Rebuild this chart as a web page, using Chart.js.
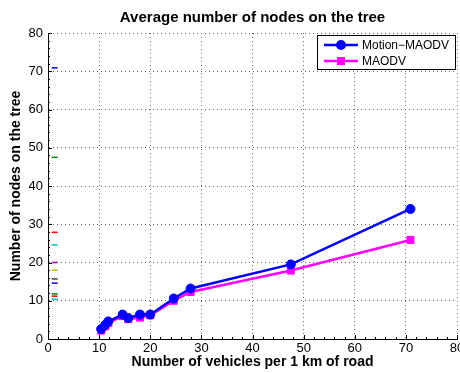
<!DOCTYPE html>
<html>
<head>
<meta charset="utf-8">
<script src="https://cdn.jsdelivr.net/npm/chart.js@4.4.1/dist/chart.umd.min.js"></script>
<style>
  html, body { margin: 0; padding: 0; background: #fff; }
</style>
</head>
<body>
<canvas id="myChart" width="460" height="373"></canvas>
<script>
// vehicles per km, and the average tree size for each protocol
var vehicleDensity = [10.4, 11.2, 11.8, 14.6, 15.7, 18.0, 20.0, 24.6, 27.9, 47.5, 70.9];
var motionMaodvNodes = [2.6, 3.7, 4.6, 6.4, 5.5, 6.4, 6.4, 10.6, 13.2, 19.5, 34.0];
var maodvNodes = [2.2, 3.3, 4.2, 6.0, 5.2, 5.6, 6.2, 10.0, 12.3, 17.9, 25.9];

// short dashes near the y axis, one per density value, in plot colour order
var densityMarkX = 1.3;
var densityMarkColors = ['#0000ff', '#008000', '#ff0000', '#00bfbf', '#bf00bf', '#bfbf00', '#404040',
    '#0000ff', '#008000', '#ff0000', '#00bfbf'];

var seriesNames = ['Motion\u2212MAODV', 'MAODV'];
var seriesColors = ['#0000ff', '#ff00ff'];
var xTickValues = [0, 10, 20, 30, 40, 50, 60, 70, 80];
var yTickValues = [0, 10, 20, 30, 40, 50, 60, 70, 80];

var FONT = '"Liberation Sans", Arial, Helvetica, sans-serif';

function toPoints(xs, ys) {
    return xs.map(function (x, i) { return { x: x, y: ys[i] }; });
}

// density values sorted high to low, as the dashes are stacked
var densityMarks = vehicleDensity.slice().sort(function (a, b) { return b - a; })
    .map(function (v) { return { x: densityMarkX, y: v }; });

// title, legend box and axis tick marks
var matlabLook = {
    id: 'matlabLook',
    beforeDatasetsDraw: function (chart) {
        var ctx = chart.ctx;
        var xs = chart.scales.x, ys = chart.scales.y;
        var left = chart.chartArea.left, bottom = chart.chartArea.bottom;
        ctx.save();
        ctx.strokeStyle = '#000';
        ctx.lineWidth = 1;
        ctx.beginPath();
        for (var v = 0; v <= 80; v += 2) {
            var len = (v % 10 === 0) ? 4 : 2;
            var py = Math.round(ys.getPixelForValue(v)) + 0.5;
            ctx.moveTo(left, py);
            ctx.lineTo(left + len, py);
            var px = Math.round(xs.getPixelForValue(v)) + 0.5;
            ctx.moveTo(px, bottom);
            ctx.lineTo(px, bottom - len);
        }
        ctx.stroke();
        ctx.restore();
    },
    afterDraw: function (chart) {
        var ctx = chart.ctx;
        var area = chart.chartArea;
        ctx.save();
        ctx.fillStyle = '#000';
        ctx.font = 'bold 15px ' + FONT;
        ctx.textAlign = 'center';
        ctx.textBaseline = 'middle';
        ctx.fillText('Average number of nodes on the tree', (area.left + area.right) / 2, 18);

        // legend
        var bx = 317.5, by = 35.5, bw = 138, bh = 34;
        ctx.fillStyle = '#fff';
        ctx.fillRect(bx, by, bw, bh);
        ctx.strokeStyle = '#000';
        ctx.lineWidth = 1;
        ctx.strokeRect(bx, by, bw, bh);
        ctx.font = '12px ' + FONT;
        ctx.textAlign = 'left';
        for (var i = 0; i < seriesNames.length; i++) {
            var ry = 45 + i * 16;
            ctx.strokeStyle = seriesColors[i];
            ctx.fillStyle = seriesColors[i];
            ctx.lineWidth = 2.5;
            ctx.beginPath();
            ctx.moveTo(324, ry);
            ctx.lineTo(358, ry);
            ctx.stroke();
            ctx.beginPath();
            if (i === 0) {
                ctx.arc(341, ry, 5, 0, Math.PI * 2);
            } else {
                ctx.rect(337, ry - 4, 8, 8);
            }
            ctx.fill();
            ctx.fillStyle = '#000';
            ctx.fillText(seriesNames[i], 362, ry + 0.5);
        }
        ctx.restore();
    }
};

var ctx = document.getElementById('myChart').getContext('2d');
var myChart = new Chart(ctx, {
    type: 'scatter',
    data: {
        datasets: [{
            label: seriesNames[0],
            data: toPoints(vehicleDensity, motionMaodvNodes),
            showLine: true,
            borderColor: seriesColors[0],
            backgroundColor: seriesColors[0],
            borderWidth: 2.5,
            pointStyle: 'circle',
            pointRadius: 4.5,
            pointBorderWidth: 1
        }, {
            label: seriesNames[1],
            data: toPoints(vehicleDensity, maodvNodes),
            showLine: true,
            borderColor: seriesColors[1],
            backgroundColor: seriesColors[1],
            borderWidth: 2.5,
            pointStyle: 'rect',
            pointRadius: 5,
            pointBorderWidth: 1
        }, {
            label: 'density',
            data: densityMarks,
            showLine: false,
            pointStyle: 'line',
            pointRadius: 3,
            pointBorderWidth: 1.5,
            pointBorderColor: densityMarkColors,
            borderColor: densityMarkColors
        }]
    },
    options: {
        responsive: false,
        animation: false,
        layout: {
            autoPadding: false,
            padding: { left: 0, right: 3, top: 33, bottom: 0 }
        },
        plugins: {
            legend: { display: false },
            title: { display: false },
            tooltip: { enabled: false }
        },
        scales: {
            x: {
                type: 'linear',
                min: 0,
                max: 80,
                afterBuildTicks: function (scale) {
                    scale.ticks = xTickValues.map(function (v) { return { value: v }; });
                },
                afterFit: function (scale) {
                    scale.height = 34;
                    scale.paddingLeft = 0;
                    scale.paddingRight = 0;
                },
                ticks: {
                    color: '#000',
                    font: { family: FONT, size: 13 },
                    padding: 2,
                    maxRotation: 0
                },
                grid: { color: '#666', lineWidth: 1, drawTicks: false },
                border: { display: true, color: '#000', width: 1, dash: [1, 3] },
                title: {
                    display: true,
                    text: 'Number of vehicles per 1 km of road',
                    color: '#000',
                    font: { family: FONT, size: 14, weight: 'bold' },
                    padding: { top: 0, bottom: 2 }
                }
            },
            y: {
                type: 'linear',
                min: 0,
                max: 80,
                afterBuildTicks: function (scale) {
                    scale.ticks = yTickValues.map(function (v) { return { value: v }; });
                },
                afterFit: function (scale) {
                    scale.width = 48;
                    scale.paddingTop = 0;
                    scale.paddingBottom = 0;
                },
                ticks: {
                    color: '#000',
                    font: { family: FONT, size: 13 },
                    padding: 5
                },
                grid: { color: '#666', lineWidth: 1, drawTicks: false },
                border: { display: true, color: '#000', width: 1, dash: [1, 3] },
                title: {
                    display: true,
                    text: 'Number of nodes on the tree',
                    color: '#000',
                    font: { family: FONT, size: 14, weight: 'bold' },
                    padding: { top: 8, bottom: 0 }
                }
            }
        }
    },
    plugins: [matlabLook]
});
</script>
</body>
</html>
